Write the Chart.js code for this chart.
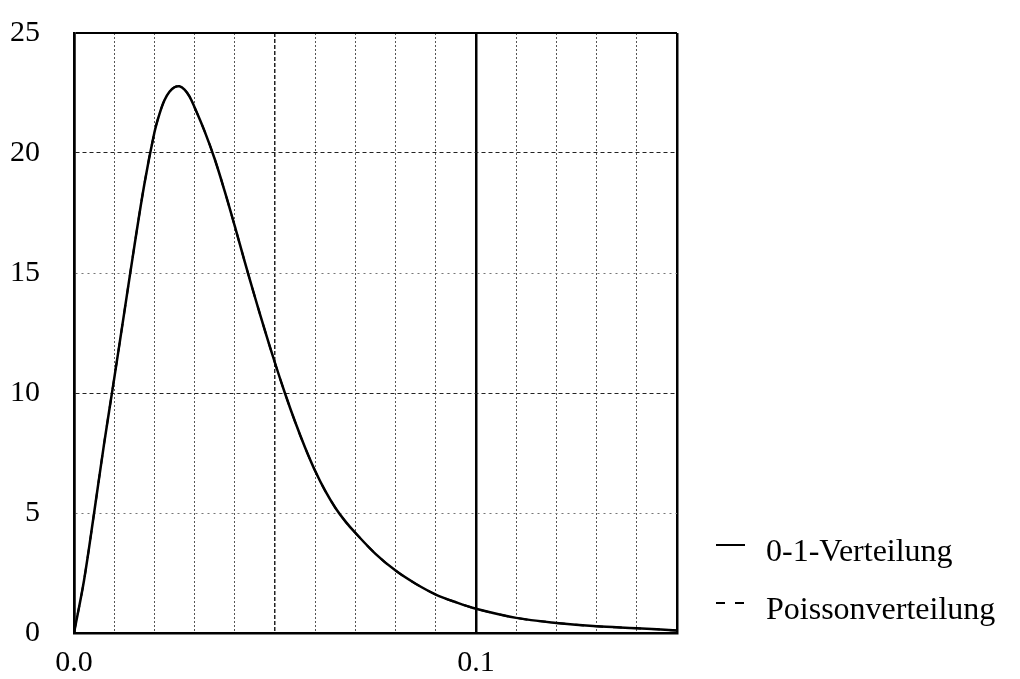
<!DOCTYPE html>
<html>
<head>
<meta charset="utf-8">
<script src="https://cdn.jsdelivr.net/npm/chart.js@4/dist/chart.umd.min.js"></script>
<style>
  html, body { margin: 0; padding: 0; background: #fff; }
  canvas { display: block; }
</style>
</head>
<body>
<canvas id="chart" width="1020" height="679"></canvas>
<script>
// Werte
const xWerte = [0, 0.0025, 0.005, 0.0075, 0.01, 0.0125, 0.015, 0.0175, 0.02, 0.02125, 0.0225,
    0.02375, 0.025, 0.02625, 0.0275, 0.02875, 0.03, 0.0325, 0.035, 0.0375, 0.04, 0.0425, 0.045,
    0.0475, 0.05, 0.0525, 0.055, 0.0575, 0.06, 0.0625, 0.065, 0.0675, 0.07, 0.075, 0.08, 0.085,
    0.09, 0.095, 0.1, 0.11, 0.12, 0.13, 0.14, 0.15];
const nullEinsWerte = [0, 2.2, 5.0, 7.9, 10.6, 13.35, 16.1, 18.7, 20.85, 21.62, 22.2,
    22.55, 22.74, 22.78, 22.64, 22.35, 21.9, 20.9, 19.75, 18.4, 16.95, 15.45, 14.0,
    12.6, 11.25, 9.98, 8.8, 7.72, 6.75, 5.92, 5.22, 4.65, 4.17, 3.3, 2.6, 2.05,
    1.6, 1.28, 1.01, 0.63, 0.42, 0.28, 0.2, 0.1];
const poissonWerte = [0, 2.2, 5.0, 7.9, 10.6, 13.35, 16.1, 18.7, 20.85, 21.62, 22.2,
    22.55, 22.74, 22.78, 22.64, 22.35, 21.9, 20.9, 19.75, 18.4, 16.95, 15.45, 14.0,
    12.6, 11.25, 9.98, 8.8, 7.72, 6.75, 5.92, 5.22, 4.65, 4.17, 3.3, 2.6, 2.05,
    1.6, 1.28, 1.01, 0.63, 0.42, 0.28, 0.2, 0.1];
const serienNamen = ['0-1-Verteilung', 'Poissonverteilung'];
const xBeschriftet = [0, 0.1];
const xLabels = ['0.0', '0.1'];
const yMax = 25;
const xMax = 0.15;

const schrift = 'Liberation Serif, Times New Roman, serif';

function punkte(werte) {
    return xWerte.map((x, i) => ({ x: x, y: werte[i] }));
}

function fast(a, b) {
    return Math.abs(a - b) < 1e-9;
}

// Legende rechts unten, selbst gezeichnet
const legende = {
    id: 'legende',
    afterDraw(chart) {
        const ctx = chart.ctx;
        const linienY = [545, 603];
        const textY = [561, 619];
        chart.data.datasets.forEach((ds, i) => {
            ctx.save();
            ctx.strokeStyle = '#000';
            ctx.lineWidth = 2;
            ctx.setLineDash(ds.borderDash || []);
            ctx.beginPath();
            ctx.moveTo(716, linienY[i]);
            ctx.lineTo(745, linienY[i]);
            ctx.stroke();
            ctx.setLineDash([]);
            ctx.fillStyle = '#000';
            ctx.font = '32px ' + schrift;
            ctx.textBaseline = 'alphabetic';
            ctx.textAlign = 'left';
            ctx.fillText(ds.label, 766, textY[i]);
            ctx.restore();
        });
    }
};

new Chart(document.getElementById('chart'), {
    type: 'line',
    data: {
        datasets: [
            {
                label: serienNamen[0],
                data: punkte(nullEinsWerte),
                borderColor: '#000',
                borderWidth: 2.5,
                pointRadius: 0,
                tension: 0.35,
                fill: false
            },
            {
                label: serienNamen[1],
                data: punkte(poissonWerte),
                borderColor: '#000',
                borderWidth: 2,
                borderDash: [9, 10],
                pointRadius: 0,
                tension: 0.35,
                fill: false
            }
        ]
    },
    options: {
        responsive: false,
        animation: false,
        layout: { padding: { left: 0, top: 33, right: 343, bottom: 0 } },
        plugins: {
            legend: { display: false },
            tooltip: { enabled: false }
        },
        scales: {
            x: {
                type: 'linear',
                min: 0,
                max: xMax,
                afterFit: s => {
                    s.height = 46;
                    s.paddingLeft = 0;
                    s.paddingRight = 0;
                },
                border: {
                    display: true,
                    color: '#000',
                    width: 2.5,
                    dash: c => {
                        if (!c.tick) return [];
                        const v = c.tick.value;
                        if (fast(v, 0.1) || fast(v, xMax) || fast(v, 0)) return [];
                        if (fast(v, 0.05)) return [4, 2];
                        return [2, 2];
                    }
                },
                grid: {
                    drawTicks: false,
                    color: c => {
                        const v = c.tick.value;
                        if (fast(v, 0.1) || fast(v, xMax) || fast(v, 0)) return '#000';
                        if (fast(v, 0.05)) return '#222';
                        return '#555';
                    },
                    lineWidth: c => {
                        const v = c.tick.value;
                        if (fast(v, 0.1) || fast(v, xMax) || fast(v, 0)) return 2.5;
                        if (fast(v, 0.05)) return 1.5;
                        return 1;
                    }
                },
                ticks: {
                    stepSize: 0.01,
                    autoSkip: false,
                    maxRotation: 0,
                    padding: 12,
                    color: '#000',
                    font: { family: schrift, size: 30 },
                    callback: v => {
                        const i = xBeschriftet.findIndex(b => fast(b, v));
                        return i >= 0 ? xLabels[i] : '';
                    }
                }
            },
            y: {
                min: 0,
                max: yMax,
                afterFit: s => {
                    s.width = 74;
                    s.paddingTop = 0;
                    s.paddingBottom = 0;
                },
                border: {
                    display: true,
                    color: '#000',
                    width: 2.5,
                    dash: c => {
                        if (!c.tick) return [];
                        const v = c.tick.value;
                        if (v === yMax || v === 0) return [];
                        if (v % 10 === 0) return [4, 3];
                        return [2, 4];
                    }
                },
                grid: {
                    drawTicks: false,
                    color: c => {
                        const v = c.tick.value;
                        if (v === yMax || v === 0) return '#000';
                        if (v % 10 === 0) return '#222';
                        return '#777';
                    },
                    lineWidth: c => {
                        const v = c.tick.value;
                        if (v === yMax || v === 0) return 2;
                        return 1;
                    }
                },
                ticks: {
                    stepSize: 5,
                    padding: 34,
                    color: '#000',
                    font: { family: schrift, size: 30 }
                }
            }
        }
    },
    plugins: [legende]
});
</script>
</body>
</html>
